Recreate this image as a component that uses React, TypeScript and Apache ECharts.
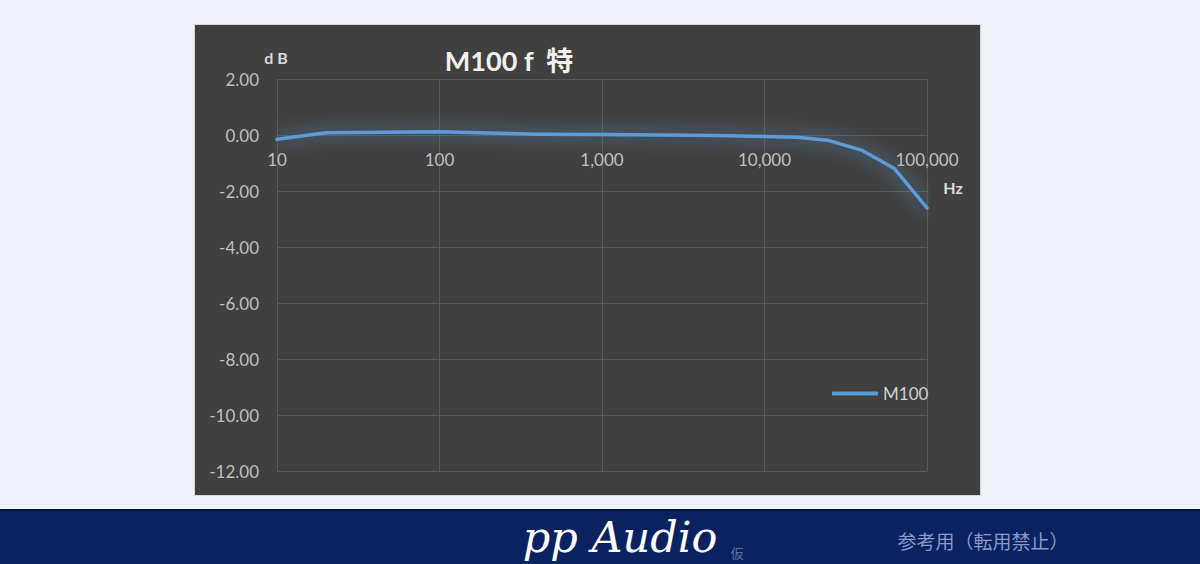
import React, { useEffect, useRef } from "react";
import * as echarts from "echarts";

const freqs = [10, 20, 100, 400, 1000, 5000, 10000, 16000, 25000, 40000, 63000, 100000];
const levels = [-0.15, 0.08, 0.12, 0.03, 0.02, -0.02, -0.05, -0.08, -0.2, -0.55, -1.2, -2.6];
const seriesName = "M100";
const yMin = -12;
const yMax = 2;
const yStep = 2;

export default function App() {
  const ref = useRef<HTMLDivElement>(null);
  useEffect(() => {
    if (!ref.current) return;
    const chart = echarts.init(ref.current, null, { renderer: "svg" });
    const labelColor = "#bfbfbf";
    const gridColor = "#595959";
    const font = "Lato, 'Noto Sans CJK JP', sans-serif";
    chart.setOption({
      animation: false,
      backgroundColor: "#eef1f9",
      textStyle: { fontFamily: font },
      grid: { left: 277, right: 273, top: 79, bottom: 93, containLabel: false },
      legend: {
        data: [seriesName],
        left: 827,
        top: 380,
        icon: "roundRect",
        itemWidth: 46,
        itemHeight: 4,
        itemGap: 4,
        textStyle: { color: "#d0d0d0", fontSize: 17, fontFamily: font },
      },
      xAxis: {
        type: "log",
        logBase: 10,
        min: 10,
        max: 100000,
        position: "bottom",
        offset: -336,
        axisLine: { show: false, onZero: false },
        axisTick: { show: false },
        axisLabel: {
          color: labelColor,
          fontSize: 17,
          margin: 16,
          formatter: (v: number) => v.toLocaleString("en-US"),
        },
        splitLine: { show: true, lineStyle: { color: gridColor, width: 1 } },
      },
      yAxis: {
        type: "value",
        min: yMin,
        max: yMax,
        interval: yStep,
        axisLine: { show: false },
        axisTick: { show: false },
        axisLabel: {
          color: labelColor,
          fontSize: 17,
          margin: 18,
          formatter: (v: number) => v.toFixed(2),
        },
        splitLine: { show: true, lineStyle: { color: gridColor, width: 1 } },
      },
      series: [
        {
          name: seriesName,
          type: "line",
          data: freqs.map((f, i) => [f, levels[i]]),
          symbol: "none",
          showSymbol: false,
          itemStyle: { color: "#5b9bd5" },
          lineStyle: {
            color: "#5b9bd5",
            width: 3.5,
            cap: "round",
            join: "round",
            shadowColor: "rgba(91,155,213,1)",
            shadowBlur: 18,
          },
          z: 5,
        },
      ],
      graphic: [
        {
          type: "rect",
          z: -100,
          shape: { x: 194.5, y: 24.5, width: 786, height: 471 },
          style: { fill: "#404040", stroke: "#d6d6d6", lineWidth: 1 },
        },
        {
          type: "rect",
          z: -100,
          shape: { x: 0, y: 509, width: 1200, height: 55 },
          style: { fill: "#0b2261" },
        },
        {
          type: "rect",
          z: -99,
          shape: { x: 0, y: 509, width: 1200, height: 2 },
          style: { fill: "#061540" },
        },
        {
          type: "text",
          x: 509,
          y: 60,
          style: {
            text: "M100 f  特",
            fill: "#f0f0f0",
            fontSize: 27,
            fontWeight: "bold",
            fontFamily: font,
            align: "center",
            verticalAlign: "middle",
          },
        },
        {
          type: "text",
          x: 276,
          y: 57,
          style: {
            text: "d B",
            fill: "#d9d9d9",
            fontSize: 16,
            fontWeight: "bold",
            fontFamily: font,
            align: "center",
            verticalAlign: "middle",
          },
        },
        {
          type: "text",
          x: 953,
          y: 187,
          style: {
            text: "Hz",
            fill: "#d9d9d9",
            fontSize: 16,
            fontWeight: "bold",
            fontFamily: font,
            align: "center",
            verticalAlign: "middle",
          },
        },
        {
          type: "text",
          x: 620,
          y: 537,
          style: {
            text: "pp Audio",
            fill: "#ffffff",
            fontSize: 43,
            fontStyle: "italic",
            fontFamily: "'DejaVu Serif', serif",
            align: "center",
            verticalAlign: "middle",
          },
        },
        {
          type: "text",
          x: 737,
          y: 552,
          style: {
            text: "仮",
            fill: "#5f72a6",
            fontSize: 13,
            fontFamily: "'Noto Sans CJK JP', sans-serif",
            align: "center",
            verticalAlign: "middle",
          },
        },
        {
          type: "text",
          x: 983,
          y: 540,
          style: {
            text: "参考用（転用禁止）",
            fill: "#8a99c6",
            fontSize: 19,
            fontFamily: "'Noto Sans CJK JP', sans-serif",
            align: "center",
            verticalAlign: "middle",
          },
        },
      ],
    });
    return () => chart.dispose();
  }, []);
  return (
    <div
      ref={ref}
      style={{ position: "fixed", left: 0, top: 0, width: 1200, height: 564 }}
    />
  );
}
